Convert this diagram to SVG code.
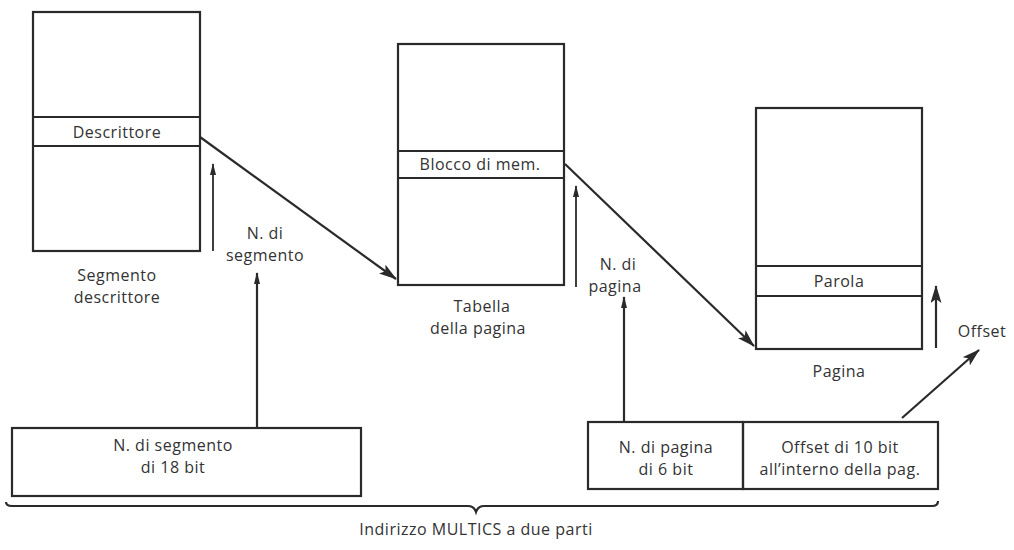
<svg xmlns="http://www.w3.org/2000/svg" width="1014" height="550" viewBox="0 0 1014 550">
<defs>
<style>
.box{fill:none;stroke:#2a2a2a;stroke-width:2.2}
.ln{fill:none;stroke:#2a2a2a;stroke-width:2.2}
.thin{fill:none;stroke:#2a2a2a;stroke-width:1.8}
text{font-family:"Open Sans","Liberation Sans",sans-serif;font-size:16px;letter-spacing:0.5px;fill:#333;text-anchor:middle}
</style>
<marker id="ah" markerWidth="18" markerHeight="11" refX="17" refY="5.5" orient="auto" markerUnits="userSpaceOnUse">
<path d="M0,0 L18,5.5 L0,11 L4,5.5 Z" fill="#2a2a2a"/>
</marker>
<marker id="ahs" markerWidth="12" markerHeight="6" refX="11" refY="3" orient="auto" markerUnits="userSpaceOnUse">
<path d="M0,0 L12,3 L0,6 Z" fill="#2a2a2a"/>
</marker>
</defs>
<rect width="1014" height="550" fill="#fff"/>

<g id="segmento-descrittore">
<rect class="box" x="33" y="12" width="167" height="239"/>
<line class="box" x1="33" y1="117" x2="200" y2="117"/>
<line class="box" x1="33" y1="146" x2="200" y2="146"/>
<text x="117" y="138">Descrittore</text>
<text x="117" y="281">Segmento</text>
<text x="117" y="303">descrittore</text>
</g>

<g id="tabella-pagina">
<rect class="box" x="398" y="44" width="166" height="241"/>
<line class="box" x1="398" y1="151" x2="564" y2="151"/>
<line class="box" x1="398" y1="178" x2="564" y2="178"/>
<text x="480" y="170">Blocco di mem.</text>
<text x="482" y="312">Tabella</text>
<text x="478" y="334">della pagina</text>
</g>

<g id="pagina">
<rect class="box" x="756" y="108" width="166" height="241"/>
<line class="box" x1="756" y1="266" x2="922" y2="266"/>
<line class="box" x1="756" y1="296" x2="922" y2="296"/>
<text x="839" y="287">Parola</text>
<text x="839" y="377">Pagina</text>
</g>

<g id="n-segmento">
<rect class="box" x="12" y="428" width="349" height="68"/>
<text x="173" y="451">N. di segmento</text>
<text x="173" y="473">di 18 bit</text>
</g>

<g id="n-pagina">
<rect class="box" x="588" y="422" width="155" height="67"/>
<text x="666" y="453">N. di pagina</text>
<text x="666" y="475">di 6 bit</text>
</g>

<g id="offset">
<rect class="box" x="743" y="422" width="195" height="67"/>
<text x="840" y="453">Offset di 10 bit</text>
<text x="840" y="475">all’interno della pag.</text>
</g>

<g id="labels">
<text x="265" y="239">N. di</text>
<text x="265" y="261">segmento</text>
<text x="618" y="270">N. di</text>
<text x="615" y="292">pagina</text>
<text x="982" y="337">Offset</text>
<text x="476" y="535">Indirizzo MULTICS a due parti</text>
</g>

<g id="connectors">
<line class="ln" x1="200" y1="137" x2="396" y2="279" marker-end="url(#ah)"/>
<line class="ln" x1="565" y1="164" x2="754" y2="346" marker-end="url(#ah)"/>
<line class="ln" x1="902" y1="418" x2="979" y2="350" marker-end="url(#ah)"/>
<line class="ln" x1="936" y1="348" x2="936" y2="286" marker-end="url(#ah)"/>
<line class="thin" x1="213" y1="251" x2="213" y2="164" marker-end="url(#ahs)"/>
<line class="ln" x1="257" y1="428" x2="257" y2="273" marker-end="url(#ahs)"/>
<line class="thin" x1="576" y1="287" x2="576" y2="186" marker-end="url(#ahs)"/>
<line class="ln" x1="624" y1="422" x2="624" y2="297" marker-end="url(#ahs)"/>
<path class="ln" d="M6,502 Q6,506 12,506 L468,506 Q474,506 476,512 Q478,506 484,506 L932,506 Q938,506 938,501"/>
</g>
</svg>
